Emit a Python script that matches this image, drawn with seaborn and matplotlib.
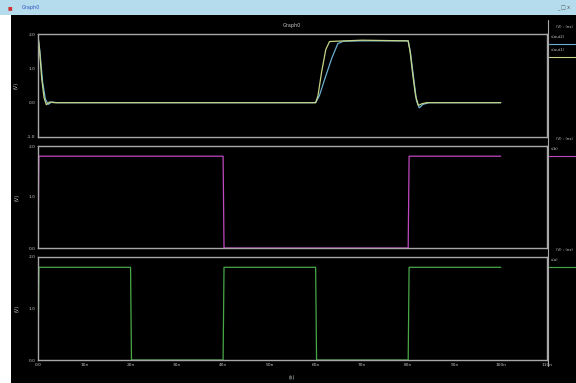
import numpy as np
import pandas as pd
import matplotlib.pyplot as plt
import seaborn as sns
from matplotlib.patches import Rectangle
from matplotlib.lines import Line2D

# waveform samples (time in ns, volts)
t_out1 = [0, 0.3, 0.8, 1.3, 1.8, 2.5, 3.5, 60, 60.5, 61.3, 62.2, 63.0, 64.5, 70, 80, 80.4, 81.0, 81.6, 82.2, 83.0, 84.0, 100]
v_out1 = [1.95, 1.6, 0.7, 0.15, -0.06, 0.02, 0.0, 0.0, 0.2, 0.9, 1.55, 1.78, 1.79, 1.82, 1.8, 1.5, 0.8, 0.2, -0.08, -0.03, 0.0, 0.0]
t_out2 = [0, 0.4, 1.0, 1.6, 2.2, 3.0, 4.0, 60, 60.8, 62.0, 63.5, 64.8, 66.0, 70, 80, 80.5, 81.2, 81.8, 82.4, 83.2, 84.5, 100]
v_out2 = [1.9, 1.5, 0.6, 0.1, -0.05, 0.02, 0.0, 0.0, 0.2, 0.7, 1.3, 1.72, 1.79, 1.8, 1.8, 1.45, 0.7, 0.05, -0.15, -0.05, 0.0, 0.0]
t_b = [0, 0.2, 40, 40.2, 80, 80.2, 100]
v_b = [0.0, 1.8, 1.8, 0.0, 0.0, 1.8, 1.8]
t_a = [0, 0.2, 20, 20.2, 40, 40.2, 60, 60.2, 80, 80.2, 100]
v_a = [0.0, 1.8, 1.8, 0.0, 0.0, 1.8, 1.8, 0.0, 0.0, 1.8, 1.8]

x_ticks = [0, 10, 20, 30, 40, 50, 60, 70, 80, 90, 100, 110]
x_labels = ["0.0", "10n", "20n", "30n", "40n", "50n", "60n", "70n", "80n", "90n", "100n", "110n"]

sns.set_theme(style="dark")
W, H = 576, 383
fig = plt.figure(figsize=(W / 100, H / 100), dpi=100)
fig.patch.set_facecolor("black")

gray = "#a8a8a8"
txt = "#c8c8c8"

# window chrome
fig.patches.append(Rectangle((0, 1 - 15 / H), 1, 15 / H, transform=fig.transFigure,
                             facecolor="#b4dced", edgecolor="none", zorder=0))
fig.patches.append(Rectangle((0, 0), 11 / W, 1 - 15 / H, transform=fig.transFigure,
                             facecolor="white", edgecolor="none", zorder=0))
fig.text(22 / W, 1 - 8 / H, "Graph0", color="#3050c0", fontsize=3.5, va="center")
fig.text(8 / W, 1 - 8 / H, "\u25a0", color="#d03030", fontsize=3.5, va="center")
fig.text(570 / W, 1 - 8 / H, "_ \u25a1 x", color="#505050", fontsize=3.5, va="center", ha="right")
fig.text(292 / W, 1 - 25 / H, "Graph0", color=txt, fontsize=3.5, ha="center", va="center")
fig.text(292 / W, 1 - 378 / H, "(s)", color=txt, fontsize=3.5, ha="center", va="center")
fig.lines.append(Line2D([548 / W, 548 / W], [1 - 20 / H, 1 - 366 / H], transform=fig.transFigure,
                        color=gray, lw=0.8))

panels = [
    (34, 137, (-1, 2), [2, 1, 0, -1], ["2.0", "1.0", "0.0", "-1.0"],
     [(t_out2, v_out2, "#6aaed0", "v(out2)"), (t_out1, v_out1, "#c4d488", "v(out1)")]),
    (146, 248, (0, 2), [2, 1, 0], ["2.0", "1.0", "0.0"],
     [(t_b, v_b, "#c048c0", "v(b)")]),
    (257, 360, (0, 2), [2, 1, 0], ["2.0", "1.0", "0.0"],
     [(t_a, v_a, "#48a848", "v(a)")]),
]

x0, x1 = 38, 547
for i, (top, bot, ylim, yt, ytl, traces) in enumerate(panels):
    ax = fig.add_axes([x0 / W, 1 - bot / H, (x1 - x0) / W, (bot - top) / H])
    ax.set_facecolor("black")
    for t, v, c, name in traces:
        df = pd.DataFrame({"t": t, "v": v})
        sns.lineplot(data=df, x="t", y="v", ax=ax, color=c, lw=0.9,
                     estimator=None, sort=False)
    ax.set_xlim(0, 110)
    ax.set_ylim(*ylim)
    ax.set_yticks(yt)
    ax.set_yticklabels(ytl)
    ax.set_xticks(x_ticks)
    if i == 2:
        ax.set_xticklabels(x_labels)
    else:
        ax.set_xticklabels([])
        ax.tick_params(axis="x", length=0)
    ax.set_xlabel("")
    ax.set_ylabel("(V)", color=txt, fontsize=3.5, labelpad=6)
    ax.tick_params(colors=txt, labelsize=3.2, direction="in", length=2, width=0.6, pad=2)
    ax.grid(False)
    for s in ax.spines.values():
        s.set_visible(True)
        s.set_color(gray)
        s.set_linewidth(1.0)
    # right side legend block
    fig.text(556 / W, 1 - (top - 7) / H, "(V) : (ns)", color=txt, fontsize=2.8, va="center")
    for j, (t, v, c, name) in enumerate(traces):
        ly = top + 3 + j * 13
        fig.text(551 / W, 1 - ly / H, name, color=txt, fontsize=2.8, va="center")
        fig.lines.append(Line2D([549 / W, 576 / W], [1 - (ly + 7) / H] * 2,
                                transform=fig.transFigure, color=c, lw=0.8))

fig.savefig("out.png", dpi=100, facecolor=fig.get_facecolor())
